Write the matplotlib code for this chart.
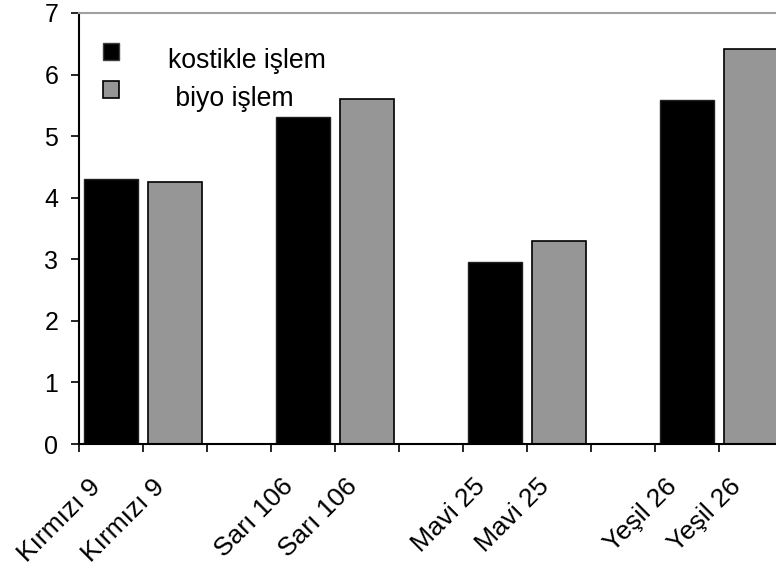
import matplotlib
matplotlib.use("Agg")
import matplotlib.pyplot as plt
import matplotlib.transforms as mtransforms
from matplotlib.patches import Patch, Rectangle
from matplotlib.legend_handler import HandlerPatch
import numpy as np

plt.rcParams["font.family"] = ["Liberation Sans", "DejaVu Sans"]

# Sample groups and the two treatments
groups = ["Kırmızı 9", "Sarı 106", "Mavi 25", "Yeşil 26"]
kostikle = [4.30, 5.31, 2.96, 5.59]
biyo = [4.26, 5.60, 3.29, 6.42]
series_names = ["kostikle işlem", " biyo işlem"]
y_ticks = [0, 1, 2, 3, 4, 5, 6, 7]

BLACK = "#000000"
GRAY = "#969696"

fig = plt.figure(figsize=(7.76, 5.72), dpi=100)
ax = fig.add_axes([79 / 776, 128 / 572, 704 / 776, 431 / 572])

# each group takes three slots: kostikle, biyo, empty gap
n_slots = 3 * len(groups) - 1
pos_k = np.arange(len(groups)) * 3
pos_b = pos_k + 1
w = 0.84
ax.bar(pos_k, kostikle, width=w, color=BLACK, edgecolor="#202020", linewidth=1.0, zorder=2)
ax.bar(pos_b, biyo, width=w, color=GRAY, edgecolor="#000000", linewidth=1.2, zorder=2)

ax.set_xlim(-0.5, n_slots - 0.5)
ax.set_ylim(0, 7)
ax.set_yticks(y_ticks)
ax.set_yticklabels([str(t) for t in y_ticks], fontsize=18)

# category boundaries carry the x tick marks
ax.set_xticks(np.arange(n_slots + 1) - 0.5)
ax.set_xticklabels([])
ax.tick_params(axis="x", direction="out", length=6, width=1.2, color="black")
ax.tick_params(axis="y", direction="out", length=6, width=1.2, color="black", pad=9)

# rotated category labels under each bar
offset = mtransforms.ScaledTranslation(-14 / 100, -39 / 100, fig.dpi_scale_trans)
trans = mtransforms.blended_transform_factory(ax.transData, ax.transAxes) + offset
label_pos = list(pos_k) + list(pos_b)
label_txt = groups + groups
for x, t in zip(label_pos, label_txt):
    ax.text(x, 0, t, transform=trans, rotation=45, rotation_mode="anchor",
            ha="right", va="center", fontsize=19)

ax.spines["right"].set_visible(False)
ax.spines["top"].set_color("#a0a0a0")
ax.spines["top"].set_linewidth(1.5)
ax.spines["left"].set_linewidth(1.5)
ax.spines["bottom"].set_linewidth(1.5)


def raised_square(legend, orig_handle, xdescent, ydescent, width, height, fontsize):
    # legend key sits a little higher than the centre of its label
    return Rectangle((-xdescent, -ydescent + 0.25 * fontsize), width, height)


handles = [Patch(facecolor=BLACK, edgecolor="#404040", linewidth=1.0),
           Patch(facecolor=GRAY, edgecolor="#000000", linewidth=1.2)]
ax.legend(handles, series_names, loc="upper left", bbox_to_anchor=(0.0, 0.975),
          frameon=False, fontsize=19.2, handlelength=0.6, handleheight=0.58,
          handletextpad=1.85, labelspacing=0.44,
          handler_map={Patch: HandlerPatch(patch_func=raised_square)})

fig.savefig("out.png", dpi=100)
